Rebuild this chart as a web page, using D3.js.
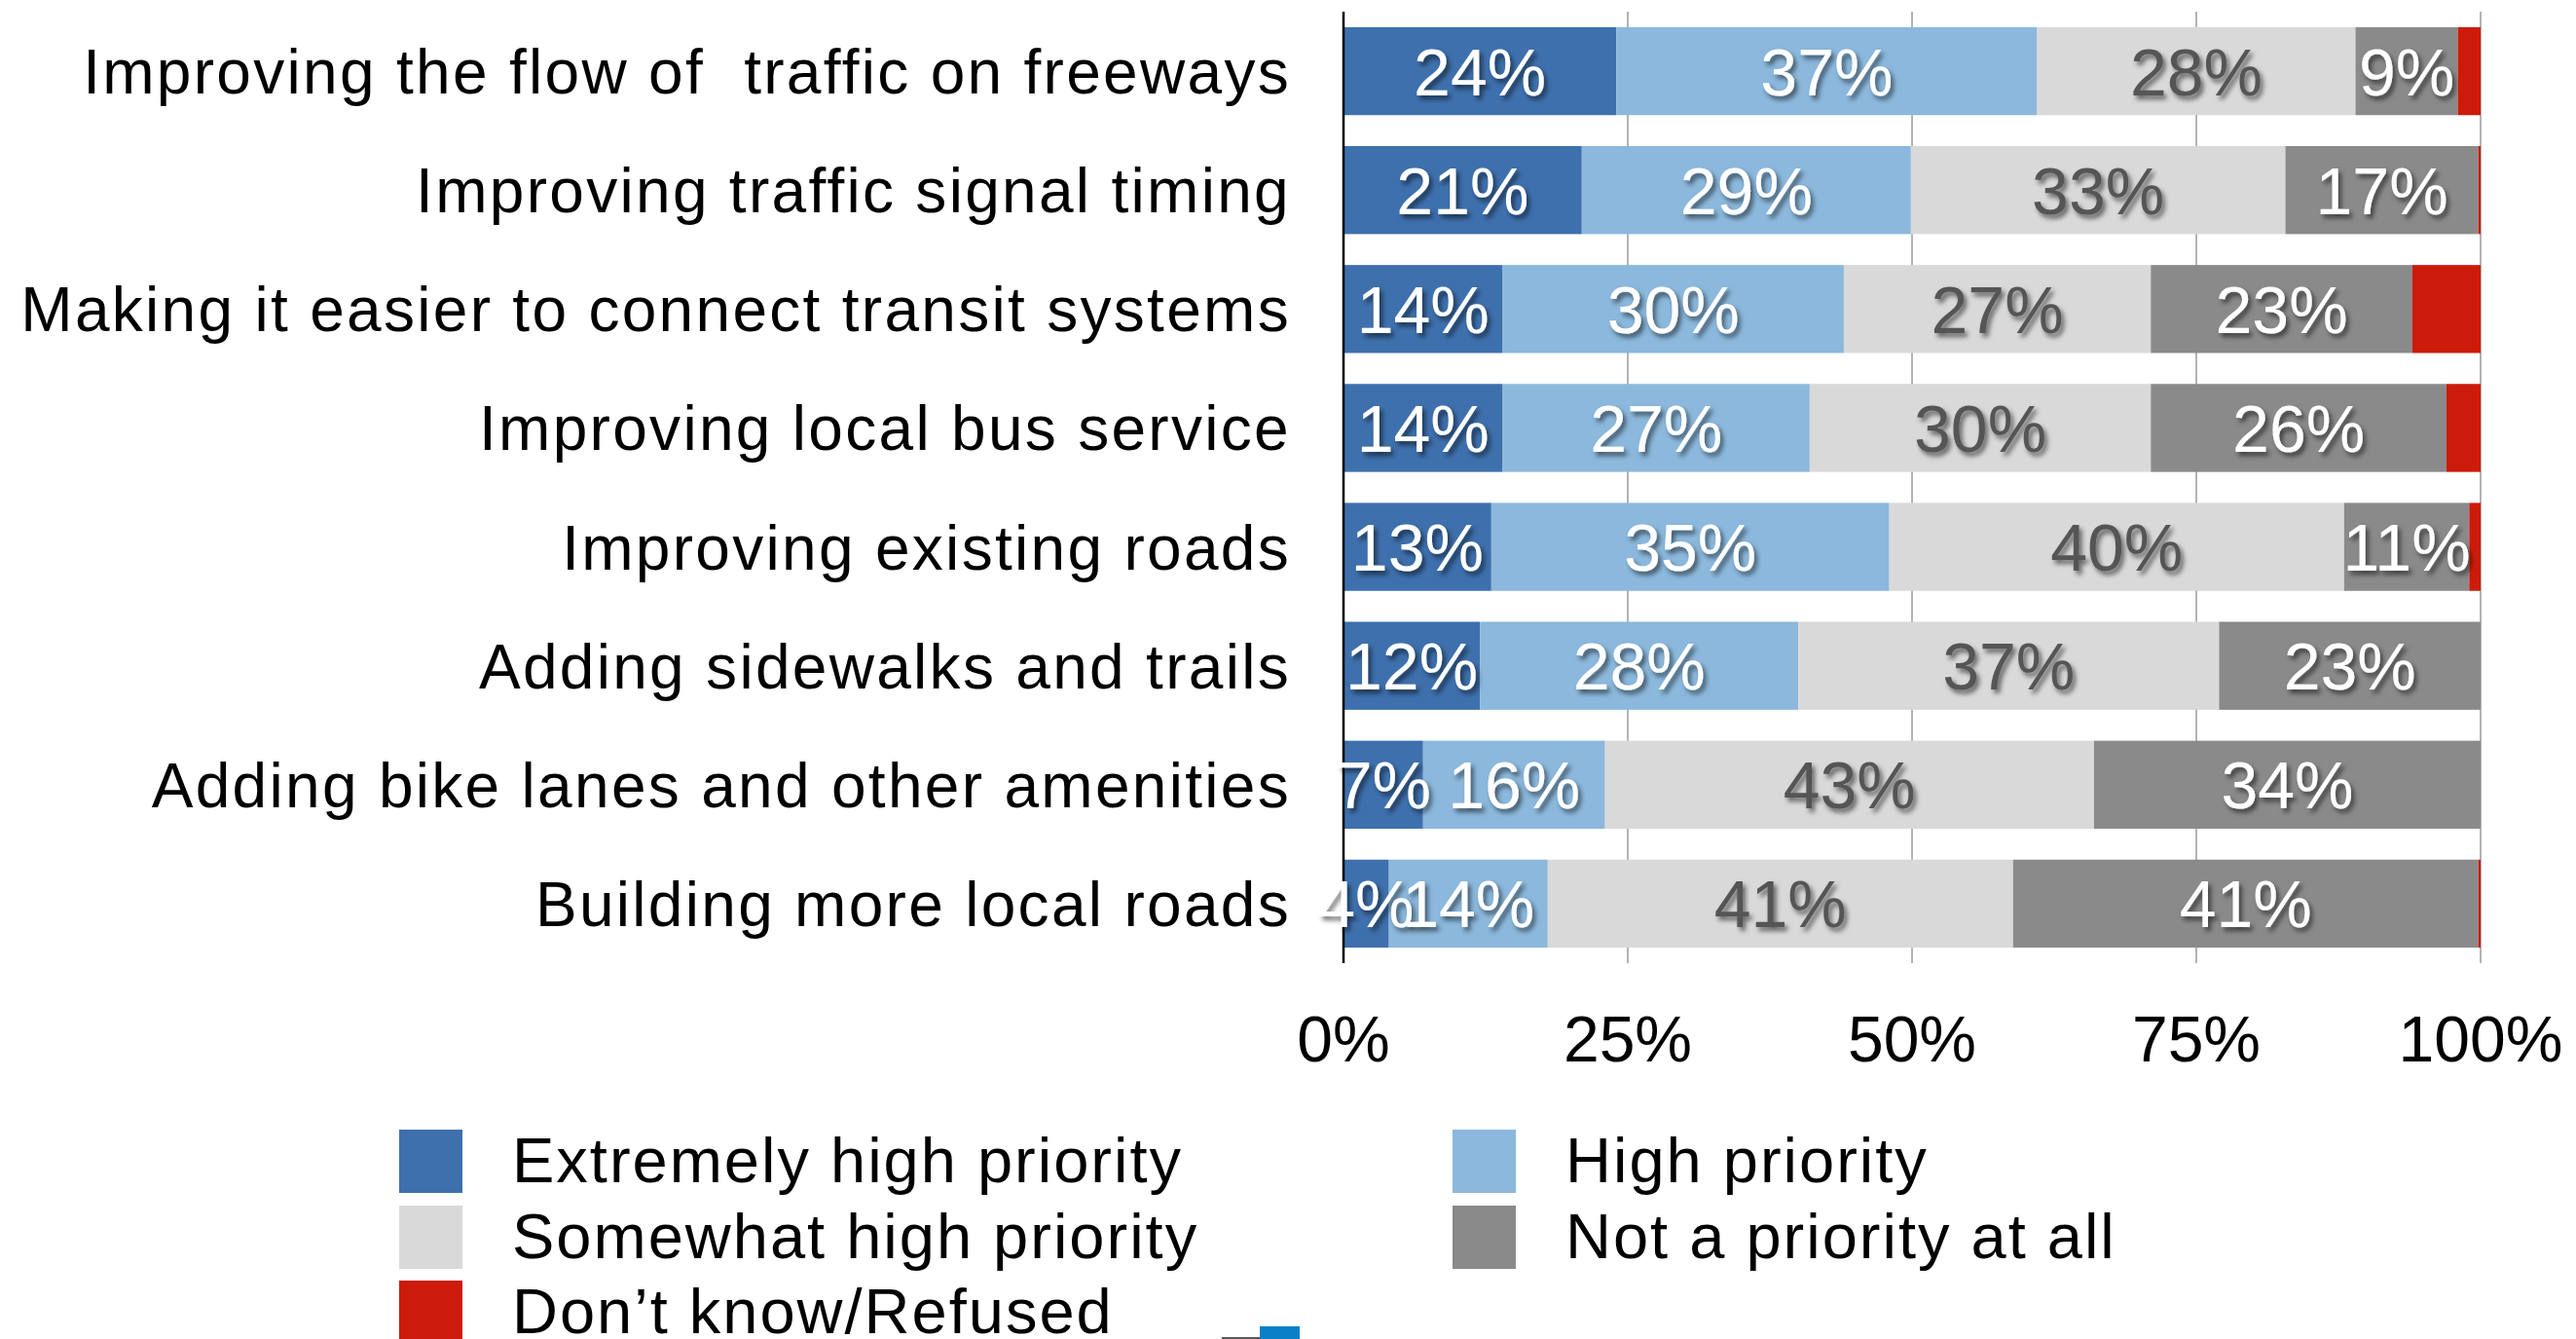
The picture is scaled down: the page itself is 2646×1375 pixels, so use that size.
<!DOCTYPE html>
<html>
<head>
<meta charset="utf-8">
<title>Transportation priorities</title>
<script src="https://cdn.jsdelivr.net/npm/d3@7"></script>
<style>
  body { margin: 0; background: #fff; }
  svg text { font-family: "Liberation Sans", Arial, sans-serif; }
</style>
</head>
<body>
<div id="chart"></div>
<script>
  /* data */
  var categories = [
    "Improving the flow of  traffic on freeways",
    "Improving traffic signal timing",
    "Making it easier to connect transit systems",
    "Improving local bus service",
    "Improving existing roads",
    "Adding sidewalks and trails",
    "Adding bike lanes and other amenities",
    "Building more local roads"
  ];
  var seriesNames = ["Extremely high priority", "High priority", "Somewhat high priority",
                     "Not a priority at all", "Don\u2019t know/Refused"];
  var extremelyHigh = [24, 21, 14, 14, 13, 12, 7, 4];
  var high          = [37, 29, 30, 27, 35, 28, 16, 14];
  var somewhatHigh  = [28, 33, 27, 30, 40, 37, 43, 41];
  var notPriority   = [9, 17, 23, 26, 11, 23, 34, 41];
  var dontKnow      = [2, 0.2, 6, 3, 1, 0, 0, 0.2];
  var ticks = [0, 0.25, 0.5, 0.75, 1];

  var colors = ["#3e70ad", "#8bb8dc", "#d9d9d9", "#8a8a8a", "#cc1b0b"];
  var labelColors = ["#fff", "#fff", "#555", "#fff", "none"];

  var width = 2646, height = 1375;
  var keys = ["k0", "k1", "k2", "k3", "k4"];
  var rows = categories.map(function(c, i) {
    return { cat: c, k0: extremelyHigh[i], k1: high[i], k2: somewhatHigh[i],
             k3: notPriority[i], k4: dontKnow[i] };
  });

  var svg = d3.select("#chart").append("svg")
      .attr("width", width)
      .attr("height", height);

  var defs = svg.append("defs");
  var f = defs.append("filter").attr("id", "shadow")
      .attr("x", "-20%").attr("y", "-20%").attr("width", "140%").attr("height", "160%");
  f.append("feDropShadow").attr("dx", 3).attr("dy", 4)
      .attr("stdDeviation", 2.5).attr("flood-color", "#000").attr("flood-opacity", 0.55);

  var x = d3.scaleLinear().domain([0, 1]).range([1380, 2548]);
  var y = d3.scaleBand().domain(categories).range([12, 989])
      .paddingInner(0.26).paddingOuter(0.13);

  var stack = d3.stack().keys(keys).offset(d3.stackOffsetExpand);
  var series = stack(rows);

  /* gridlines */
  svg.append("g").selectAll("line").data(ticks.slice(1)).join("line")
      .attr("x1", function(d) { return x(d); })
      .attr("x2", function(d) { return x(d); })
      .attr("y1", 12).attr("y2", 989)
      .attr("stroke", "#b3b3b3").attr("stroke-width", 2);

  /* bars */
  var layers = svg.append("g").selectAll("g").data(series).join("g")
      .attr("fill", function(d, i) { return colors[i]; });
  layers.selectAll("rect").data(function(d) { return d; }).join("rect")
      .attr("x", function(d) { return x(d[0]); })
      .attr("width", function(d) { return x(d[1]) - x(d[0]); })
      .attr("y", function(d) { return y(d.data.cat); })
      .attr("height", y.bandwidth());

  /* axis line */
  svg.append("line")
      .attr("x1", x(0)).attr("x2", x(0))
      .attr("y1", 12).attr("y2", 989)
      .attr("stroke", "#000").attr("stroke-width", 2.5);

  /* value labels */
  var lab = svg.append("g").selectAll("g").data(series.slice(0, 4)).join("g")
      .attr("fill", function(d, i) { return labelColors[i]; })
      .attr("filter", "url(#shadow)");
  lab.selectAll("text").data(function(d) { return d.map(function(p) { return { p: p, key: d.key }; }); })
      .join("text")
      .attr("x", function(d) { return (x(d.p[0]) + x(d.p[1])) / 2; })
      .attr("y", function(d) { return y(d.p.data.cat) + y.bandwidth() / 2; })
      .attr("dy", "0.36em")
      .attr("text-anchor", "middle")
      .attr("font-size", 68)
      .text(function(d) { return d.p.data[d.key] + "%"; });

  /* category labels */
  svg.append("g").selectAll("text").data(categories).join("text")
      .attr("x", 1326)
      .attr("y", function(d) { return y(d) + y.bandwidth() / 2; })
      .attr("dy", "0.36em")
      .attr("text-anchor", "end")
      .attr("font-size", 64)
      .attr("letter-spacing", 2.3)
      .attr("fill", "#000")
      .style("white-space", "pre")
      .text(function(d) { return d; });

  /* x tick labels */
  svg.append("g").selectAll("text").data(ticks).join("text")
      .attr("x", function(d) { return x(d); })
      .attr("y", 1090)
      .attr("text-anchor", "middle")
      .attr("font-size", 66)
      .attr("fill", "#000")
      .text(d3.format(".0%"));

  /* legend */
  var legCol = [410, 1492];
  var legRow = [1160, 1238, 1315];
  var leg = svg.append("g").selectAll("g").data(seriesNames).join("g")
      .attr("transform", function(d, i) {
        return "translate(" + legCol[i % 2] + "," + legRow[Math.floor(i / 2)] + ")";
      });
  leg.append("rect").attr("width", 65).attr("height", 65)
      .attr("fill", function(d, i) { return colors[i]; });
  leg.append("text").attr("x", 116).attr("y", 54)
      .attr("font-size", 65)
      .attr("letter-spacing", 2)
      .attr("fill", "#000")
      .text(function(d) { return d; });

  /* stray marks at bottom */
  svg.append("rect").attr("x", 1294).attr("y", 1362).attr("width", 41).attr("height", 13)
      .attr("fill", "#0a80c9");
  svg.append("line").attr("x1", 1255).attr("x2", 1294).attr("y1", 1374).attr("y2", 1374)
      .attr("stroke", "#222").attr("stroke-width", 1.5);
</script>
</body>
</html>
